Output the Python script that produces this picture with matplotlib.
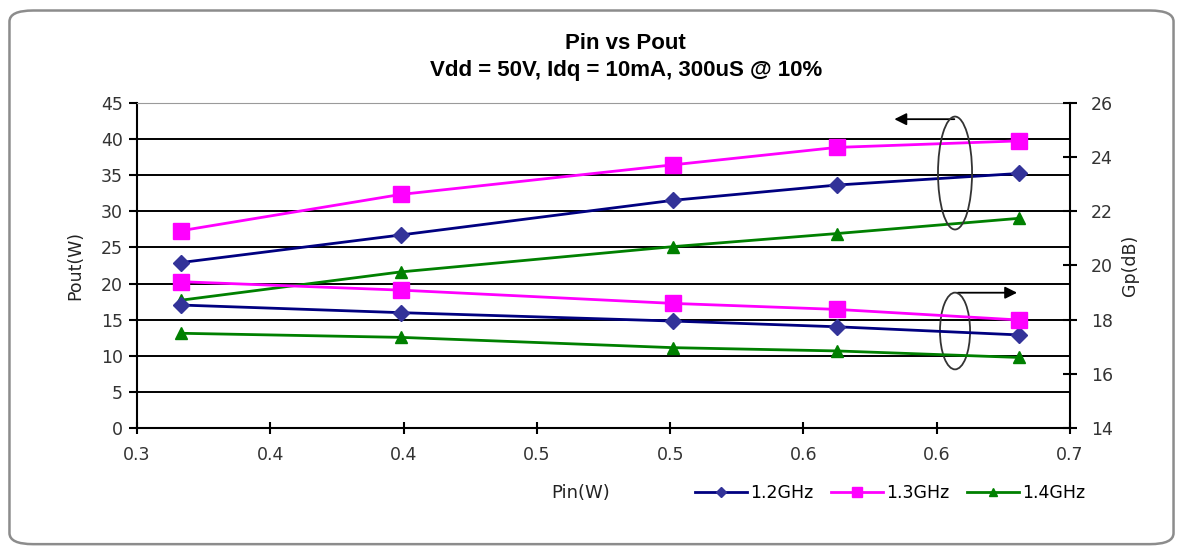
import matplotlib
matplotlib.use("Agg")
import matplotlib.pyplot as plt
import numpy as np
from matplotlib.patches import Ellipse, FancyBboxPatch
from matplotlib.ticker import FixedLocator, FormatStrFormatter

pin = [0.319, 0.413, 0.530, 0.600, 0.678]

pout_12 = [22.9, 26.7, 31.5, 33.6, 35.2]
pout_13 = [27.3, 32.3, 36.4, 38.8, 39.7]
pout_14 = [17.7, 21.6, 25.1, 26.9, 29.0]

gp_12 = [18.54, 18.26, 17.95, 17.74, 17.44]
gp_13 = [19.40, 19.09, 18.60, 18.38, 17.99]
gp_14 = [17.50, 17.35, 16.97, 16.85, 16.61]

labels = ["1.2GHz", "1.3GHz", "1.4GHz"]
colors = ["#000080", "#FF00FF", "#008000"]
marker_faces = ["#333399", "#FF00FF", "#008000"]
markers = ["D", "s", "^"]
msizes = [8, 11, 9]

plt.rcParams["font.family"] = ["DejaVu Sans"]

fig = plt.figure(figsize=(11.83, 5.53), dpi=100)
fig.patches.append(FancyBboxPatch((0.008, 0.016), 0.984, 0.965,
                                  boxstyle="round,pad=0,rounding_size=0.02",
                                  transform=fig.transFigure, fill=False,
                                  edgecolor="#8c8c8c", linewidth=1.8))

ax = fig.add_axes([0.1158, 0.2255, 0.7887, 0.5891])
ax2 = ax.twinx()

handles = []
for i, (po, gp) in enumerate(zip([pout_12, pout_13, pout_14], [gp_12, gp_13, gp_14])):
    h, = ax.plot(pin, po, color=colors[i], lw=2, marker=markers[i], ms=msizes[i],
                 mfc=marker_faces[i], mec=marker_faces[i], label=labels[i], zorder=3)
    ax2.plot(pin, gp, color=colors[i], lw=2, marker=markers[i], ms=msizes[i],
             mfc=marker_faces[i], mec=marker_faces[i], zorder=3)
    handles.append(h)

ax.set_xlim(0.3, 0.7)
ax.set_ylim(0, 45)
ax2.set_ylim(14, 26)
ax.xaxis.set_major_locator(FixedLocator(np.linspace(0.3, 0.7, 8)))
ax.xaxis.set_major_formatter(FormatStrFormatter("%.1f"))
ax.set_yticks(range(0, 50, 5))
ax2.set_yticks(range(14, 28, 2))

ax.yaxis.grid(True, color="black", lw=1.4)
ax.set_axisbelow(True)
ax.spines["top"].set_color("#9a9a9a")
ax2.spines["top"].set_visible(False)
ax2.spines["left"].set_visible(False)
ax2.spines["bottom"].set_visible(False)
ax.spines["right"].set_visible(False)
for sp in [ax.spines["left"], ax.spines["bottom"], ax2.spines["right"]]:
    sp.set_linewidth(1.5)

ax.tick_params(axis="both", labelsize=12.5, width=1.5, colors="black", labelcolor="#333333")
ax2.tick_params(axis="y", labelsize=12.5, width=1.5, labelcolor="#333333", direction="inout", length=10, pad=10)
ax.tick_params(axis="x", direction="inout", length=9, pad=8)
ax.tick_params(axis="y", direction="out", length=6, pad=4)

ax.set_ylabel("Pout(W)", fontsize=12.5, labelpad=12, color="#222222")
ax2.set_ylabel("Gp(dB)", fontsize=12.5, labelpad=6, rotation=90, color="#222222")

fig.text(0.529, 0.922, "Pin vs Pout", ha="center", va="center", fontsize=16,
         fontweight="bold", family="Liberation Sans")
fig.text(0.529, 0.872, "Vdd = 50V, Idq = 10mA, 300uS @ 10%", ha="center", va="center",
         fontsize=16, fontweight="bold", family="Liberation Sans")

fig.text(0.491, 0.108, "Pin(W)", ha="center", va="center", fontsize=13, color="#222222")
fig.legend(handles=handles, loc="center left", bbox_to_anchor=(0.574, 0.108), ncol=3,
           frameon=False, fontsize=12.5, handlelength=3.0, columnspacing=1.0,
           handletextpad=0.2, markerscale=0.6)

# annotation ellipses and arrows
ax.add_patch(Ellipse((0.6507, 35.26), 0.0146, 15.6, fill=False, ec="#333333", lw=1.3, zorder=4))
ax.add_patch(Ellipse((0.6507, 13.44), 0.0129, 10.6, fill=False, ec="#333333", lw=1.3, zorder=4))
ax.annotate("", xy=(0.6235, 42.7), xytext=(0.6516, 42.7),
            arrowprops=dict(arrowstyle="-|>", color="black", lw=1.3, mutation_scale=18))
ax.annotate("", xy=(0.6785, 18.73), xytext=(0.6507, 18.73),
            arrowprops=dict(arrowstyle="-|>", color="black", lw=1.3, mutation_scale=18))

fig.savefig("out.png", dpi=100)
